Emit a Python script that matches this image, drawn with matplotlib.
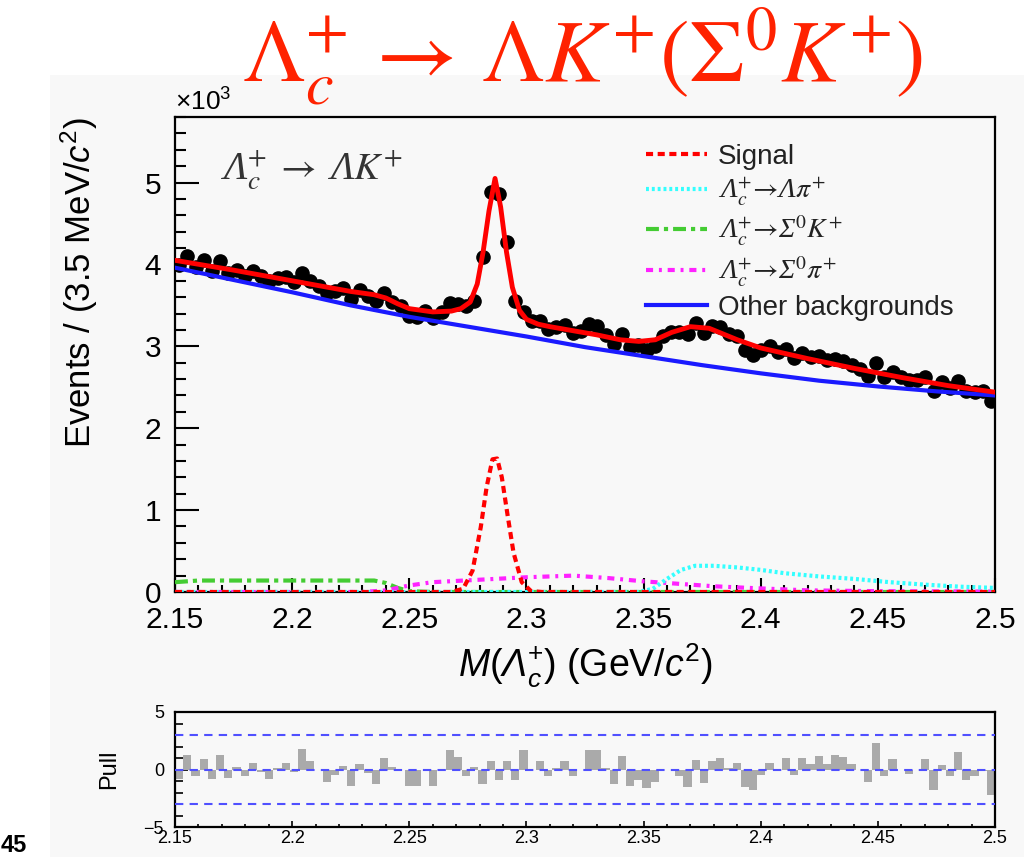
import numpy as np
import matplotlib
matplotlib.use("Agg")
import matplotlib.pyplot as plt
from matplotlib.patches import Rectangle
from matplotlib.ticker import MultipleLocator

plt.rcParams['font.family'] = ['Liberation Sans', 'DejaVu Sans']
plt.rcParams['mathtext.fontset'] = 'custom'
plt.rcParams['mathtext.rm'] = 'Liberation Sans'
plt.rcParams['mathtext.it'] = 'Liberation Sans:italic'
plt.rcParams['mathtext.bf'] = 'Liberation Sans:bold'
# italic sans Greek capitals through \mathsf
plt.rcParams['mathtext.sf'] = 'Liberation Sans:italic'

# binning: 100 bins of 3.5 MeV
m_lo, m_hi, bin_w, n_bins = 2.15, 2.5, 0.0035, 100

# data (x10^3 events per bin)
data_counts = [3.99, 4.10, 3.97, 4.05, 3.92, 4.04, 3.90, 3.93, 3.86, 3.92,
               3.86, 3.80, 3.84, 3.85, 3.79, 3.89, 3.80, 3.74, 3.65, 3.68,
               3.71, 3.58, 3.69, 3.62, 3.55, 3.65, 3.54, 3.49, 3.37, 3.36,
               3.43, 3.34, 3.42, 3.53, 3.52, 3.49, 3.55, 4.09, 4.88, 4.86,
               4.27, 3.55, 3.42, 3.31, 3.31, 3.21, 3.24, 3.26, 3.16, 3.19,
               3.27, 3.25, 3.14, 3.03, 3.15, 2.99, 3.01, 2.96, 3.00, 3.12,
               3.17, 3.17, 3.15, 3.29, 3.16, 3.25, 3.24, 3.15, 3.12, 2.96,
               2.90, 2.95, 3.00, 2.93, 2.97, 2.86, 2.92, 2.87, 2.88, 2.83,
               2.85, 2.82, 2.77, 2.72, 2.64, 2.80, 2.63, 2.69, 2.62, 2.59,
               2.59, 2.62, 2.46, 2.56, 2.49, 2.58, 2.45, 2.44, 2.46, 2.33]

# pulls per bin
pulls = [-0.8, 1.3, -0.6, 0.9, -0.8, 1.3, -0.7, 0.2, -0.6, 0.6,
         -0.2, -0.8, 0.1, 0.6, -0.2, 1.8, 0.7, 0.0, -1.1, -0.5,
         0.3, -1.4, 0.5, -0.3, -1.3, 1.0, 0.2, 0.0, -1.4, -1.4,
         0.0, -1.4, 0.0, 1.7, 1.1, -0.6, 0.2, -1.3, 0.7, -0.9,
         0.7, -0.9, 1.7, 0.0, 0.75, -0.6, 0.1, 0.7, -0.6, 0.0,
         1.7, 1.7, 0.1, -1.3, 1.2, -1.4, -0.9, -1.6, -1.1, 0.0,
         0.0, -0.6, -1.5, 0.8, -1.2, 0.7, 1.0, 0.1, 0.6, -1.5,
         -1.8, -0.5, 0.6, 0.0, 1.0, -0.5, 1.0, 0.5, 1.15, 0.5,
         1.25, 1.1, 0.5, 0.0, -1.1, 2.3, -0.6, 0.9, 0.0, -0.35,
         0.0, 0.95, -1.8, 0.4, -0.6, 1.5, -0.9, -0.6, -0.1, -2.2]

# total fit
tot_x = [2.15, 2.175, 2.2, 2.225, 2.235, 2.24, 2.245, 2.25, 2.26, 2.268,
         2.272, 2.276, 2.279, 2.2815, 2.284, 2.2866, 2.289, 2.2915, 2.294, 2.297,
         2.30, 2.305, 2.31, 2.32, 2.33, 2.34, 2.348, 2.355, 2.362, 2.37,
         2.378, 2.39, 2.40, 2.42, 2.44, 2.46, 2.48, 2.5]
tot_y = [4.05, 3.93, 3.80, 3.67, 3.63, 3.59, 3.52, 3.46, 3.42, 3.43,
         3.46, 3.54, 3.76, 4.15, 4.65, 5.05, 4.70, 4.15, 3.72, 3.44,
         3.33, 3.27, 3.24, 3.19, 3.14, 3.08, 3.06, 3.08, 3.17, 3.24,
         3.22, 3.08, 2.98, 2.85, 2.73, 2.62, 2.52, 2.44]

# other backgrounds
bkg_x = [2.15, 2.175, 2.2, 2.225, 2.25, 2.275, 2.3, 2.325, 2.35, 2.375,
         2.4, 2.425, 2.45, 2.475, 2.5]
bkg_y = [3.96, 3.81, 3.66, 3.50, 3.36, 3.24, 3.12, 2.99, 2.88, 2.77,
         2.67, 2.58, 2.51, 2.45, 2.40]

# signal
sig_x = [2.15, 2.25, 2.268, 2.273, 2.277, 2.2805, 2.283, 2.2855, 2.2875, 2.2895,
         2.292, 2.2945, 2.298, 2.302, 2.307, 2.35, 2.4, 2.45, 2.5]
sig_y = [0.0, 0.0, 0.0, 0.04, 0.26, 0.79, 1.28, 1.62, 1.63, 1.40,
         0.93, 0.48, 0.12, 0.01, 0.0, 0.0, 0.0, 0.0, 0.0]

# Lambda pi+
lpi_x = [2.15, 2.348, 2.354, 2.36, 2.366, 2.372, 2.38, 2.39, 2.40, 2.41,
         2.425, 2.44, 2.455, 2.47, 2.485, 2.5]
lpi_y = [0.0, 0.0, 0.04, 0.16, 0.27, 0.32, 0.32, 0.30, 0.27, 0.23,
         0.19, 0.16, 0.12, 0.09, 0.065, 0.05]

# Sigma0 K+
s0k_x = [2.15, 2.16, 2.18, 2.2, 2.22, 2.235, 2.24, 2.245, 2.25, 2.26, 2.5]
s0k_y = [0.12, 0.14, 0.14, 0.14, 0.14, 0.14, 0.11, 0.05, 0.01, 0.0, 0.0]

# Sigma0 pi+
s0pi_x = [2.15, 2.23, 2.24, 2.25, 2.26, 2.28, 2.30, 2.32, 2.335, 2.35,
          2.365, 2.38, 2.395, 2.42, 2.45, 2.5]
s0pi_y = [0.0, 0.0, 0.02, 0.08, 0.12, 0.15, 0.18, 0.20, 0.17, 0.13,
          0.10, 0.07, 0.05, 0.02, 0.01, 0.005]

x_ticks = [2.15, 2.2, 2.25, 2.3, 2.35, 2.4, 2.45, 2.5]
x_tick_labels = ['2.15', '2.2', '2.25', '2.3', '2.35', '2.4', '2.45', '2.5']

bin_centers = m_lo + bin_w * (np.arange(n_bins) + 0.5)

W, H = 1024.0, 857.0
fig = plt.figure(figsize=(10.24, 8.57), dpi=100)
fig.patch.set_facecolor('white')
bg = '#f8f8f8'
fig.add_artist(Rectangle((50 / W, 0), 1.0, 1 - 75 / H, transform=fig.transFigure,
                         facecolor=bg, edgecolor='none', zorder=-10))

ax = fig.add_axes([175 / W, 1 - 592 / H, 820 / W, 475 / H])
axp = fig.add_axes([175 / W, 1 - 827 / H, 820 / W, 115 / H])

for a in (ax, axp):
    a.set_facecolor(bg)
    for s in a.spines.values():
        s.set_linewidth(1.6)
        s.set_color('black')

# main plot
ax.plot(bin_centers, data_counts, 'o', color='black', ms=9.5, zorder=3)
ax.plot(s0k_x, s0k_y, color='#44cc33', lw=3, dashes=(3.1, 1.2, 1.0, 1.2), zorder=4,
        label=r'Λ$_c^{+}\!\rightarrow\!$Σ$^{0}K^{+}$')
ax.plot(s0pi_x, s0pi_y, color='#ff22ff', lw=3, dashes=(1.7, 1.4, 0.7, 1.4), zorder=4,
        label=r'Λ$_c^{+}\!\rightarrow\!$Σ$^{0}\pi^{+}$')
ax.plot(lpi_x, lpi_y, color='#33ffff', lw=3, dashes=(0.7, 0.7), zorder=4,
        label=r'Λ$_c^{+}\!\rightarrow\!$Λ$\pi^{+}$')
ax.plot(sig_x, sig_y, color='#ff0000', lw=3, dashes=(1.7, 1.1), zorder=5, label='Signal')
ax.plot(bkg_x, bkg_y, color='#1a1aff', lw=3, zorder=5, label='Other backgrounds')
ax.plot(tot_x, tot_y, color='#ff0000', lw=3.5, zorder=6)

ax.set_xlim(m_lo, m_hi)
ax.set_ylim(0, 5.8)
ax.set_xticks(x_ticks)
ax.set_xticklabels(x_tick_labels)
ax.set_yticks([0, 1, 2, 3, 4, 5])
ax.xaxis.set_minor_locator(MultipleLocator(0.01))
ax.yaxis.set_minor_locator(MultipleLocator(0.2))
ax.tick_params(axis='both', which='both', direction='in', top=False, right=False,
               labelsize=21.5, width=1.5)
ax.tick_params(axis='y', which='major', length=17, pad=10)
ax.tick_params(axis='y', which='minor', length=8)
ax.tick_params(axis='x', which='major', length=10, pad=10)
ax.tick_params(axis='x', which='minor', length=5)
ax.set_ylabel(r'Events / (3.5 MeV/$c^{2}$)', fontsize=25, loc='top')
ax.yaxis.set_label_coords(-0.092, 1.0)
ax.set_xlabel(r'$M(\mathsf{Λ}_c^{+})$ (GeV/$c^{2}$)', fontsize=27)
ax.xaxis.set_label_coords(0.5, -0.105)
ax.text(0.0, 1.004, r'$\times10^{3}$', transform=ax.transAxes, fontsize=19,
        ha='left', va='bottom')

ax.text(0.055, 0.888, r'Λ$_c^{+}\;\rightarrow\;$Λ$K^{+}$',
        transform=ax.transAxes, fontsize=28, color='#333333', math_fontfamily='stix',
        family='Liberation Serif', style='italic', ha='left', va='center')

handles, labels = ax.get_legend_handles_labels()
order = [3, 2, 0, 1, 4]
leg = ax.legend([handles[i] for i in order], [labels[i] for i in order],
                loc='upper left', bbox_to_anchor=(632 / W, 1 - 130 / H),
                bbox_transform=fig.transFigure, frameon=False, fontsize=20,
                handlelength=2.2, handletextpad=0.4, labelspacing=0.22, borderpad=0)
leg.set_zorder(10)
for t in leg.get_texts():
    t.set_math_fontfamily('stix')
    t.set_color('#222222')
    if '$' in t.get_text():
        t.set_fontfamily('Liberation Serif')
        t.set_fontstyle('italic')

# title
fig.text(0.569, 1 - 82 / H, r'$\Lambda_c^{+}\,\rightarrow\,\Lambda K^{+}(\Sigma^{0}K^{+})$',
         color='#ff2200', fontsize=64, math_fontfamily='stix', ha='center', va='baseline')

# pull panel
axp.bar(bin_centers, pulls, width=bin_w, color='#aaaaaa', edgecolor='none', zorder=2)
for yv in (-3, 0, 3):
    axp.axhline(yv, color='#5050ff', lw=1.5, ls=(0, (4, 3)), zorder=3)
axp.set_xlim(m_lo, m_hi)
axp.set_ylim(-5, 5)
axp.set_xticks(x_ticks)
axp.set_xticklabels(x_tick_labels)
axp.set_yticks([-5, 0, 5])
axp.xaxis.set_minor_locator(MultipleLocator(0.01))
axp.yaxis.set_minor_locator(MultipleLocator(1))
axp.tick_params(axis='both', which='both', direction='in', top=False, right=False,
                labelsize=13, width=1.2)
axp.tick_params(axis='y', which='major', length=9, pad=8)
axp.tick_params(axis='y', which='minor', length=6)
axp.tick_params(axis='x', which='major', length=4, pad=2)
axp.tick_params(axis='x', which='minor', length=2)
axp.set_ylabel('Pull', fontsize=17)
axp.yaxis.set_label_coords(-0.067, 0.5)

fig.text(27 / W, 1 - 846 / H, '45', ha='right', va='center', fontweight='bold',
         fontsize=17)

fig.savefig('out.png', dpi=100)
